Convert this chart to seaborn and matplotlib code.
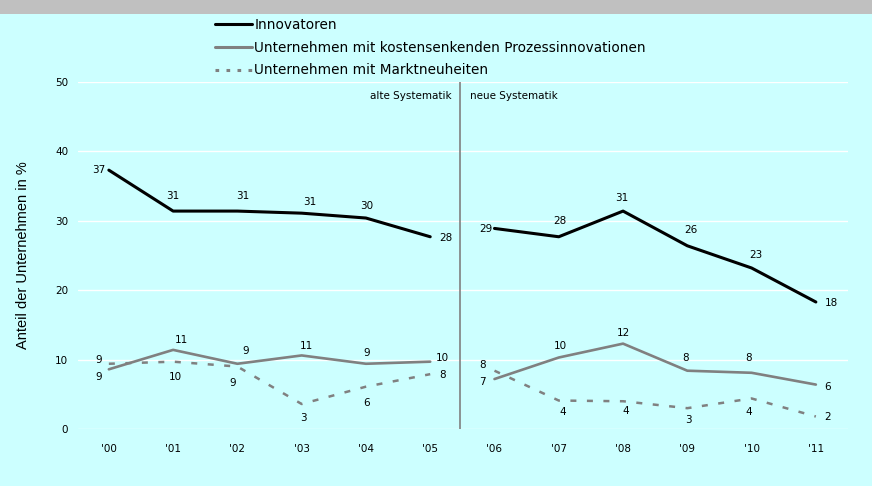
import matplotlib
matplotlib.use("Agg")
import matplotlib.pyplot as plt
from matplotlib.lines import Line2D
from matplotlib.patches import Rectangle
import seaborn as sns
import pandas as pd

# ---------------- data ----------------
years = ["'00", "'01", "'02", "'03", "'04", "'05", "'06", "'07", "'08", "'09", "'10", "'11"]
periods = ["alt"] * 6 + ["neu"] * 6
series_names = ["Innovatoren",
                "Unternehmen mit kostensenkenden Prozessinnovationen",
                "Unternehmen mit Marktneuheiten"]
innovatoren = [37.3, 31.4, 31.4, 31.1, 30.4, 27.7, 28.9, 27.7, 31.4, 26.4, 23.2, 18.3]
prozess = [8.6, 11.4, 9.4, 10.6, 9.4, 9.7, 7.2, 10.3, 12.3, 8.4, 8.1, 6.4]
markt = [9.4, 9.7, 9.0, 3.6, 6.1, 7.9, 8.4, 4.1, 4.0, 3.0, 4.4, 1.8]
innovatoren_lbl = [37, 31, 31, 31, 30, 28, 29, 28, 31, 26, 23, 18]
prozess_lbl = [9, 11, 9, 11, 9, 10, 7, 10, 12, 8, 8, 6]
markt_lbl = [9, 10, 9, 3, 6, 8, 8, 4, 4, 3, 4, 2]
yticks = [0, 10, 20, 30, 40, 50]
ylabel = "Anteil der Unternehmen in %"
left_note = "alte Systematik"
right_note = "neue Systematik"

# ---------------- styling / layout ----------------
BG = "#ccffff"
GREY = "#808080"
colors = {series_names[0]: "#000000", series_names[1]: GREY, series_names[2]: GREY}
dashes = {series_names[0]: "", series_names[1]: "", series_names[2]: (2.4, 4.2)}
widths = {series_names[0]: 2.2, series_names[1]: 1.9, series_names[2]: 1.8}

# label offsets in pixels (dx, dy)
off_innov = [(-10, 0), (0, 15), (5, 15), (8, 11), (1, 12), (16, -1),
             (-9, -1), (1, 16), (-1, 13), (4, 16), (4, 13), (16, -1)]
off_proz = [(-10, -8), (8, 10), (8, 13), (5, 9), (1, 11), (12, 4),
            (-12, -3), (2, 12), (0, 11), (-2, 13), (-3, 15), (12, -2)]
off_markt = [(-10, 4), (2, -15), (-5, -16), (2, -14), (1, -16), (12, -1),
             (-12, 6), (4, -11), (3, -10), (1, -12), (-3, -14), (12, 0)]

rows = []
for name, vals in zip(series_names, [innovatoren, prozess, markt]):
    for i, v in enumerate(vals):
        rows.append({"x": i, "value": v, "series": name, "period": periods[i]})
df = pd.DataFrame(rows)

sns.set_theme(style="white")
plt.rcParams["font.family"] = ["DejaVu Sans"]
plt.rcParams["text.color"] = "#000000"
plt.rcParams["axes.labelcolor"] = "#000000"

W, H = 872, 486
fig = plt.figure(figsize=(W / 100, H / 100), dpi=100, facecolor=BG)
ax = fig.add_axes([78 / W, 1 - 429 / H, (848 - 78) / W, (429 - 82) / H])
ax.set_facecolor(BG)

# top grey bar
fig.patches.append(Rectangle((0, 1 - 14 / H), 1, 14 / H, transform=fig.transFigure,
                             facecolor="#c0c0c0", edgecolor="none", zorder=0))

for name in series_names:
    n_before = len(ax.lines)
    sns.lineplot(data=df[df["series"] == name], x="x", y="value",
                 units="period", estimator=None, color=colors[name],
                 linewidth=widths[name], legend=False, ax=ax, zorder=3)
    if dashes[name]:
        for ln in ax.lines[n_before:]:
            ln.set_dashes(dashes[name])

ax.set_xlim(-0.48, 11.5)
ax.set_ylim(0, 50)
ax.set_yticks(yticks)
ax.set_xticks(range(len(years)))
ax.set_xticklabels(years)
ax.set_xlabel("")
ax.tick_params(axis="both", length=0, labelsize=7.5, colors="#000000")
ax.tick_params(axis="y", pad=7)
ax.tick_params(axis="x", pad=11)
for s in ax.spines.values():
    s.set_visible(False)
for t in yticks:
    ax.axhline(t, color="white", linewidth=1.0, zorder=1)

ax.set_ylabel(ylabel, fontsize=10.5, family=["Liberation Sans", "DejaVu Sans"])
ax.yaxis.set_label_coords(-0.062, 0.5)

# separator
ax.plot([5.46, 5.46], [0, 50], color=GREY, linewidth=1.2, zorder=2)
ax.annotate(left_note, (5.46, 50), xytext=(-8, -14), textcoords="offset pixels",
            ha="right", va="center", fontsize=7.5)
ax.annotate(right_note, (5.46, 50), xytext=(10, -14), textcoords="offset pixels",
            ha="left", va="center", fontsize=7.5)

# data labels
for vals, lbls, offs in [(innovatoren, innovatoren_lbl, off_innov),
                         (prozess, prozess_lbl, off_proz),
                         (markt, markt_lbl, off_markt)]:
    for i, (v, l, o) in enumerate(zip(vals, lbls, offs)):
        ax.annotate(str(l), (i, v), xytext=o, textcoords="offset pixels",
                    ha="center", va="center", fontsize=7.5, color="#000000", zorder=4)

# legend
handles = [Line2D([], [], color="#000000", linewidth=2.2),
           Line2D([], [], color=GREY, linewidth=2.2),
           Line2D([], [], color=GREY, linewidth=2.2, linestyle=(0, (1.2, 2.4)))]
leg = fig.legend(handles, series_names, loc="upper left",
                 bbox_to_anchor=(215 / W, 1 - 18 / H), frameon=False, fontsize=9.8,
                 handlelength=2.7, handletextpad=0.2, labelspacing=0.64,
                 borderpad=0, borderaxespad=0)
for t in leg.get_texts():
    t.set_color("#000000")

fig.savefig("out.png", dpi=100, facecolor=BG)
